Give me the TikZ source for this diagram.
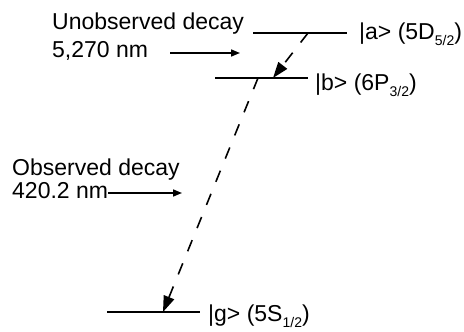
\documentclass[tikz,border=0pt]{standalone}
\usepackage{fontspec}
\setmainfont{Liberation Sans}
\usetikzlibrary{arrows.meta}
% lowered, smaller index for term symbols
\newcommand\termidx[1]{\raisebox{-6pt}{\fontsize{14pt}{14pt}\selectfont #1}}
\begin{document}
\begin{tikzpicture}[x=1pt,y=-1pt,
  level/.style={line width=2pt},
  decay/.style={line width=1.6pt, dash pattern=on 12pt off 13pt,
                -{Triangle[length=16pt,width=11pt]}},
  pointer/.style={line width=1.6pt, -{Triangle[length=9pt,width=7pt]}},
  lbl/.style={font=\fontsize{23pt}{27pt}\selectfont, inner sep=0pt, anchor=base west}]
\useasboundingbox (0,0) rectangle (464,332);

% energy levels
\coordinate (aL) at (253,33);  \coordinate (aR) at (347,33);
\coordinate (bL) at (215,78);  \coordinate (bR) at (308,78);
\coordinate (gL) at (107,312); \coordinate (gR) at (200,312);
\draw[level] (aL) -- (aR);
\draw[level] (bL) -- (bR);
\draw[level] (gL) -- (gR);

% level labels
\node[lbl] (la) at (359,39) {|a> (5D\termidx{5/2})};
\node[lbl] (lb) at (315,90) {|b> (6P\termidx{3/2})};
\node[lbl] (lg) at (208,321) {|g> (5S\termidx{1/2})};

% decay channels
\coordinate (aOut) at (308,33);
\coordinate (bIn)  at (273,78);
\coordinate (bOut) at (258,78);
\coordinate (gIn)  at (163,312);
\draw[decay] (aOut) -- (bIn);
\draw[decay] (bOut) -- (gIn);

% annotations
\node[lbl] (un) at (52,30) {Unobserved decay};
\node[lbl] (unw) at (52,57) {5,270 nm};
\node[lbl] (ob) at (12,175) {Observed decay};
\node[lbl] (obw) at (12,198) {420.2 nm};

\coordinate (p1s) at (170,53); \coordinate (p1e) at (240,53);
\coordinate (p2s) at (108,193); \coordinate (p2e) at (182,193);
\draw[pointer] (p1s) -- (p1e);
\draw[pointer] (p2s) -- (p2e);
\end{tikzpicture}
\end{document}
